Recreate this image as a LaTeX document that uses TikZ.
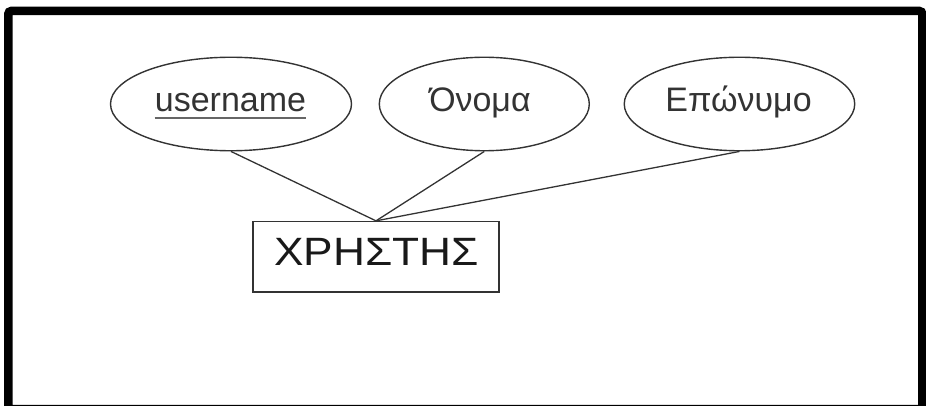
\documentclass[tikz,border=0pt]{standalone}
\usepackage{fontspec}
\setmainfont{Liberation Sans}
\newfontfamily\entfont[FakeStretch=1.12]{Liberation Sans}
\usetikzlibrary{shapes.geometric}
\definecolor{ink}{HTML}{333333}
\tikzset{
  attr/.style={draw=ink, line width=1.4pt, ellipse, minimum height=93.5pt, inner sep=0pt},
  lbl/.style={anchor=base, inner sep=0pt, text=ink, font=\fontsize{34}{40}\selectfont},
  entity/.style={draw=ink, line width=1.4pt, rectangle, minimum width=246pt, minimum height=70.5pt, inner sep=0pt},
  link/.style={draw=ink, line width=1.3pt},
  frame/.style={draw=black, line width=8.5pt, rounded corners=3pt}
}
\begin{document}
\begin{tikzpicture}[x=1pt, y=-1pt]
\useasboundingbox (0,0) rectangle (926,406);
\begin{scope}
\clip (0,0) rectangle (926,406);
\draw[frame] (8.3,11) rectangle (922.3,409);
\end{scope}
\node[attr, minimum width=241pt] (e1) at (231,104) {};
\node[attr, minimum width=210pt] (e2) at (484.3,104) {};
\node[attr, minimum width=230.5pt] (e3) at (739.5,104) {};
\node[lbl] (t1) at (230.5,111.7) {username};
\draw[draw=gray!80!black, line width=2pt] ([yshift=-6.5pt]t1.base west) -- ([yshift=-6.5pt]t1.base east);
\node[lbl] (t2) at (480,111.7) {Όνομα};
\node[lbl] (t3) at (738.5,111.7) {Επώνυμο};
\node[entity] (ent) at (376,256.8) {};
\node[anchor=base, inner sep=0pt, text=black!90, font=\entfont\fontsize{39.5}{44}\selectfont] (et) at (376.5,265) {ΧΡΗΣΤΗΣ};
\draw[link] (e1.south) -- (ent.north);
\draw[link] (e2.south) -- (ent.north);
\draw[link] (e3.south) -- (ent.north);
\end{tikzpicture}
\end{document}
